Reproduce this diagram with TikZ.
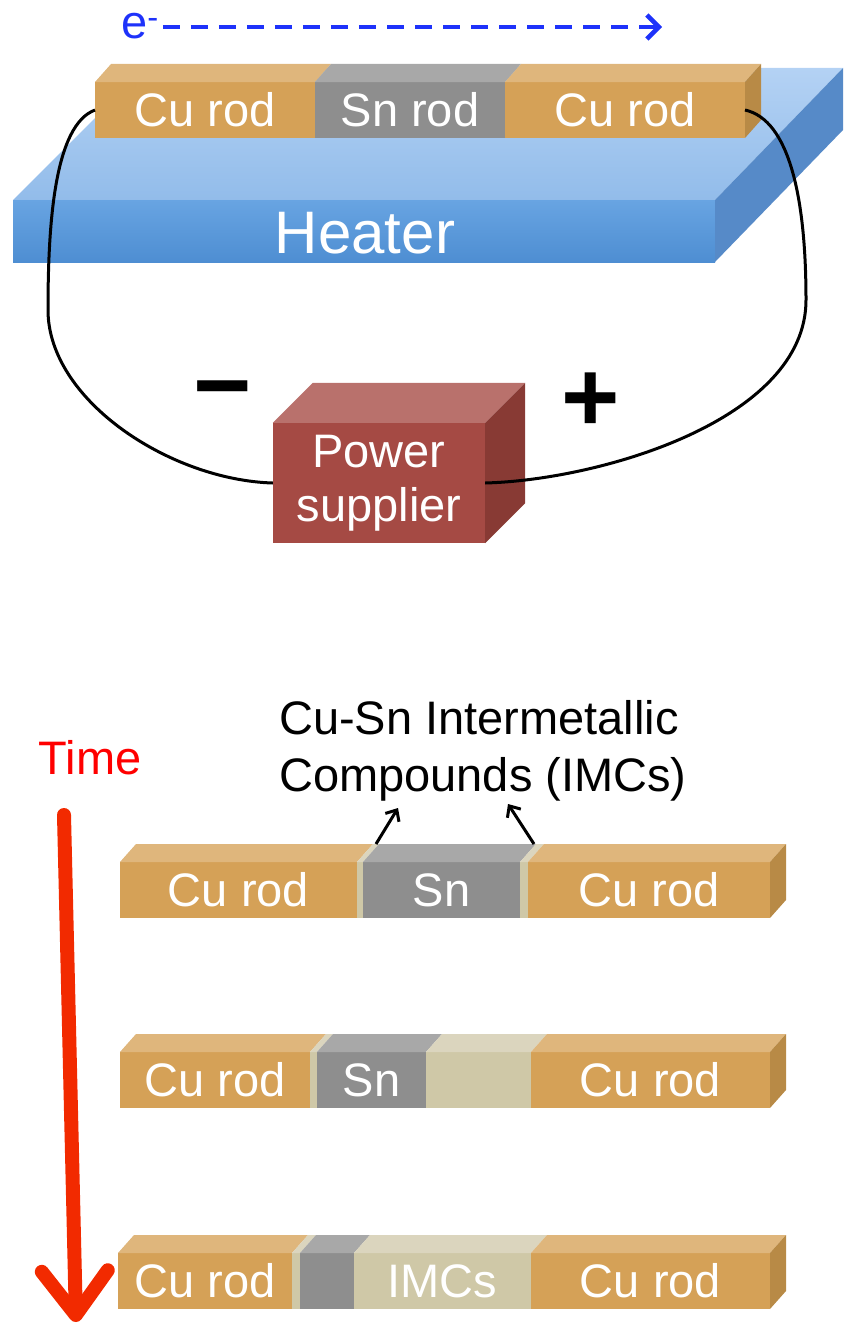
\documentclass[tikz,border=0pt]{standalone}
\usepackage{fontspec}
\setmainfont{Liberation Sans}
\usepackage{xcolor}
\usepackage{tikz}
\usetikzlibrary{positioning,arrows.meta}

\definecolor{cufront}{RGB}{213,161,87}
\definecolor{cutop}{RGB}{223,182,124}
\definecolor{cuside}{RGB}{184,138,70}
\definecolor{snfront}{RGB}{142,142,142}
\definecolor{sntop}{RGB}{168,168,168}
\definecolor{imcfront}{RGB}{207,200,167}
\definecolor{imctop}{RGB}{219,213,190}
\definecolor{htback}{RGB}{180,210,244}
\definecolor{htfront}{RGB}{146,188,234}
\definecolor{htface}{RGB}{104,164,226}
\definecolor{htfacelow}{RGB}{78,142,210}
\definecolor{htside}{RGB}{86,138,200}
\definecolor{psfront}{RGB}{165,74,68}
\definecolor{pstop}{RGB}{185,113,108}
\definecolor{psside}{RGB}{136,58,52}
\definecolor{eblue}{RGB}{30,50,250}
\definecolor{timered}{RGB}{242,42,0}

\newcommand{\rodfont}{\fontsize{47}{56}\selectfont}
\newcommand{\heatfont}{\fontsize{60}{70}\selectfont}
\newcommand{\signfont}{\fontsize{100}{100}\selectfont\bfseries}

% top face and right end face of a rod piece
\newcommand{\rodtop}[2]{\fill[#2] (#1.north west) -- ++(16,-18) -- ([shift={(16,-18)}]#1.north east) -- (#1.north east) -- cycle;}
\newcommand{\rodend}[1]{\fill[cuside] (#1.north east) -- ++(16,-18) -- ([shift={(16,-18)}]#1.south east) -- (#1.south east) -- cycle;}

\begin{document}
\begin{tikzpicture}[x=1pt, y=-1pt,
  node distance=0pt,
  seg/.style={inner sep=0pt, outer sep=0pt, minimum height=56pt, text=white, font=\rodfont},
  cu/.style={seg, fill=cufront},
  sn/.style={seg, fill=snfront},
  imc/.style={seg, fill=imcfront},
  wire/.style={line width=3pt, black},
  eflow/.style={line width=4.5pt, eblue, dash pattern=on 17pt off 11pt,
    -{Straight Barb[length=12pt, width=24pt]}},
  imcarr/.style={line width=3pt, -{Straight Barb[length=9pt, width=16pt]}},
  timearr/.style={line width=14pt, timered, line cap=round,
    -{Straight Barb[round, length=44pt, width=66pt]}}
]
\useasboundingbox (0,0) rectangle (843,1330);

% heater slab
\shade[top color=htback, bottom color=htfront] (13,200) -- (145,68) -- (843,68) -- (715,200) -- cycle;
\shade[top color=htface, bottom color=htfacelow] (13,200) rectangle (715,262);
\fill[htside] (715,200) -- (843,68) -- (843,130) -- (715,262) -- cycle;
\node[font=\heatfont, text=white] (heater) at (365,233) {Heater};

% rods on the heater
\node[cu, minimum width=220pt, anchor=north west] (rodcu1) at (95,82) {Cu rod};
\node[sn, minimum width=190pt, right=of rodcu1] (rodsn) {Sn rod};
\node[cu, minimum width=240pt, right=of rodsn] (rodcu2) {Cu rod};
\rodtop{rodcu1}{cutop}
\rodtop{rodsn}{sntop}
\rodtop{rodcu2}{cutop}
\rodend{rodcu2}

% electron flow
\node[font=\rodfont, text=eblue, inner sep=0pt, anchor=base west] (elec) at (121,38) {e\textsuperscript{-}};
\coordinate (ehead) at (662,27);
\draw[eflow] ([xshift=4pt]elec.east |- ehead) -- (ehead);

% power supplier box
\node[fill=psfront, inner sep=0pt, minimum width=212pt, minimum height=120pt,
  text=white, align=center, font={\fontsize{47}{54}\selectfont}] (psu) at (379,483) {Power\\supplier};
\fill[pstop] (psu.north west) -- ++(40,-40) -- ([shift={(40,-40)}]psu.north east) -- (psu.north east) -- cycle;
\fill[psside] (psu.north east) -- ++(40,-40) -- ([shift={(40,-40)}]psu.south east) -- (psu.south east) -- cycle;

% wiring
\draw[wire] (rodcu1.west) .. controls (55,125) and (48,220) .. (48,310)
  .. controls (48,400) and (170,480) .. (psu.west);
\draw[wire] (rodcu2.east) .. controls (790,120) and (806,200) .. (806,300)
  .. controls (806,420) and (600,480) .. (psu.east);
\node[font=\signfont, inner sep=0pt] (minus) at (223,400) {−};
\node[font=\signfont, inner sep=0pt] (plus) at (591,402) {+};

% time axis
\node[font=\rodfont, text=red] (time) at (90,758) {Time};
\coordinate (tstart) at (64,815);
\coordinate (tend) at (76,1322);
\draw[timearr] (tstart) -- (tend);

% stage 1
\node[cu, minimum width=237pt, anchor=north west] (s1cu1) at (120,862) {Cu rod};
\node[imc, minimum width=6pt, right=of s1cu1] (s1gap1) {};
\node[sn, minimum width=157pt, right=of s1gap1] (s1sn) {Sn};
\node[imc, minimum width=8pt, right=of s1sn] (s1gap2) {};
\node[cu, minimum width=242pt, right=of s1gap2] (s1cu2) {Cu rod};
\rodtop{s1cu1}{cutop}
\rodtop{s1gap1}{imctop}
\rodtop{s1sn}{sntop}
\rodtop{s1gap2}{imctop}
\rodtop{s1cu2}{cutop}
\rodend{s1cu2}

% stage 2
\node[cu, minimum width=190pt, anchor=north west] (s2cu1) at (120,1052) {Cu rod};
\node[imc, minimum width=7pt, right=of s2cu1] (s2gap) {};
\node[sn, minimum width=109pt, right=of s2gap] (s2sn) {Sn};
\node[imc, minimum width=105pt, right=of s2sn] (s2imc) {};
\node[cu, minimum width=239pt, right=of s2imc] (s2cu2) {Cu rod};
\rodtop{s2cu1}{cutop}
\rodtop{s2gap}{imctop}
\rodtop{s2sn}{sntop}
\rodtop{s2imc}{imctop}
\rodtop{s2cu2}{cutop}
\rodend{s2cu2}

% stage 3
\node[cu, minimum width=174pt, anchor=north west] (s3cu1) at (118,1253) {Cu rod};
\node[imc, minimum width=8pt, right=of s3cu1] (s3gap) {};
\node[sn, minimum width=54pt, right=of s3gap] (s3sn) {};
\node[imc, minimum width=177pt, right=of s3sn] (s3imc) {IMCs};
\node[cu, minimum width=239pt, right=of s3imc] (s3cu2) {Cu rod};
\rodtop{s3cu1}{cutop}
\rodtop{s3gap}{imctop}
\rodtop{s3sn}{sntop}
\rodtop{s3imc}{imctop}
\rodtop{s3cu2}{cutop}
\rodend{s3cu2}

% IMC callout
\node[font={\fontsize{47}{57}\selectfont}, align=left, inner sep=0pt, anchor=north west] (imclbl) at (279,700)
  {Cu-Sn Intermetallic\\Compounds (IMCs)};
\coordinate (imcA) at (398,808);
\coordinate (imcB) at (508,804);
\draw[imcarr] ([shift={(16,-18)}]s1gap1.north) -- (imcA);
\draw[imcarr] ([shift={(10,-18)}]s1gap2.north) -- (imcB);
\end{tikzpicture}
\end{document}
